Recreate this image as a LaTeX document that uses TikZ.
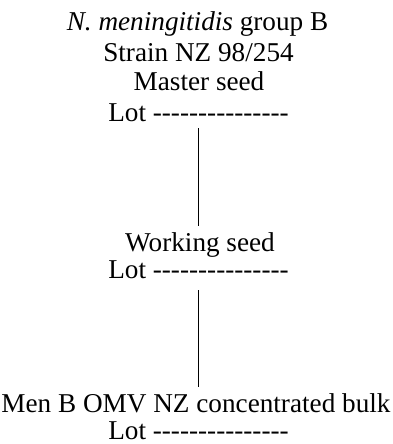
\documentclass[tikz,border=0pt]{standalone}
\usepackage{fontspec}
\setmainfont{Liberation Serif}
\usetikzlibrary{positioning}
\newcommand{\lotdashes}{\foreach \k in {1,...,15}{\mbox{-}}}

\begin{document}
\begin{tikzpicture}[x=1pt,y=-1pt]
    \tikzstyle{txt} = [inner sep=0pt,anchor=base,font=\fontsize{27.2}{28}\selectfont]
    \tikzstyle{link} = [line width=1.2pt]
    \useasboundingbox (0,0) rectangle (392,444);
    \node[txt] (species) at (197.5,31) {\textit{N. meningitidis} group B};
    \node[txt] (strain) at (198.5,61) {Strain NZ 98/254};
    \node[txt] (master) at (199,90) {Master seed};
    \node[txt] (lotA) at (198.5,121) {Lot \lotdashes};
    \node[txt] (working) at (200,251) {Working seed};
    \node[txt] (lotB) at (198.5,278) {Lot \lotdashes};
    \node[txt] (bulk) at (196,412) {Men B OMV NZ concentrated bulk};
    \node[txt] (lotC) at (198.5,439) {Lot \lotdashes};
    \draw[link] ([yshift=-7pt]lotA.south) -- ([yshift=6pt]lotA.south |- working.north);
    \draw[link] ([yshift=-12pt]lotB.south) -- ([yshift=6pt]lotB.south |- bulk.north);
\end{tikzpicture}
\end{document}
